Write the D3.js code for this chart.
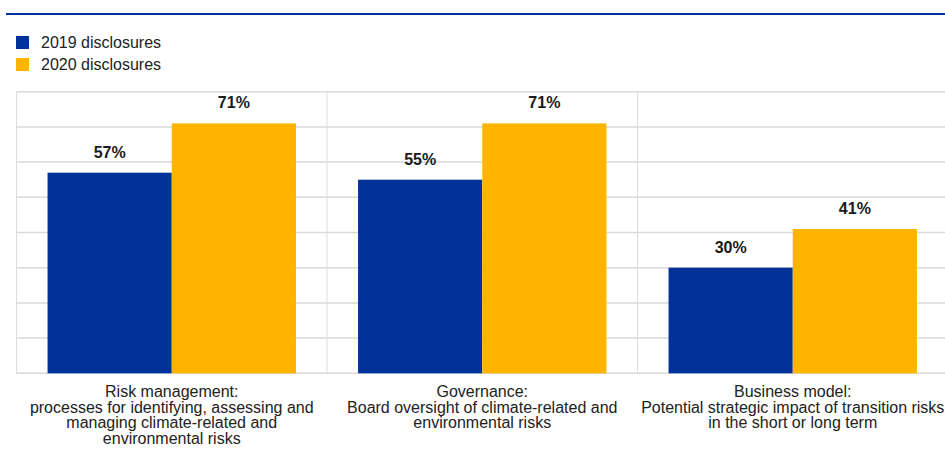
<!DOCTYPE html>
<html>
<head>
<meta charset="utf-8">
<script src="https://cdn.jsdelivr.net/npm/d3@7/dist/d3.min.js"></script>
<style>
  html, body { margin: 0; padding: 0; background: #fff; }
  svg { display: block; font-family: Arial, "Liberation Sans", Helvetica, sans-serif; }
</style>
</head>
<body>
<svg id="chart" width="945" height="452"></svg>
<script>
// Share of disclosures covering each topic (%)
const categories = ["risk", "governance", "business"];
const categoryLabels = [
  ["Risk management:", "processes for identifying, assessing and", "managing climate-related and", "environmental risks"],
  ["Governance:", "Board oversight of climate-related and", "environmental risks"],
  ["Business model:", "Potential strategic impact of transition risks", "in the short or long term"]
];
const seriesNames = ["2019 disclosures", "2020 disclosures"];
const values2019 = [57, 55, 30];
const values2020 = [71, 71, 41];
const gridTicks = [0, 10, 20, 30, 40, 50, 60, 70, 80];

const colors = ["#003299", "#FFB400"];
const series = [values2019, values2020];

const svg = d3.select("#chart");

// top rule
svg.append("line")
  .attr("x1", 6).attr("x2", 945).attr("y1", 14).attr("y2", 14)
  .attr("stroke", "#003299").attr("stroke-width", 2);

// legend
const legend = svg.append("g");
seriesNames.forEach((name, i) => {
  const g = legend.append("g").attr("transform", `translate(16, ${36 + i * 22})`);
  g.append("rect").attr("width", 13).attr("height", 13).attr("fill", colors[i]);
  g.append("text").attr("x", 25).attr("y", 12)
    .attr("font-size", 16).attr("fill", "#222")
    .text(name);
});

const plot = { left: 16.5, right: 948, top: 91.7, bottom: 373.3 };

const x = d3.scaleBand().domain(categories).range([plot.left, plot.right]).paddingInner(0).paddingOuter(0);
const xInner = d3.scaleBand().domain([0, 1]).range([0, x.bandwidth()]).paddingInner(0).paddingOuter(0.25);
const y = d3.scaleLinear().domain([0, 80]).range([plot.bottom, plot.top]);

// horizontal gridlines
svg.append("g").selectAll("line").data(gridTicks).join("line")
  .attr("x1", plot.left).attr("x2", plot.right)
  .attr("y1", d => y(d)).attr("y2", d => y(d))
  .attr("stroke", "#d9d9d9").attr("stroke-width", 1.5);

// vertical category dividers
svg.append("g").selectAll("line").data(categories.concat(["end"])).join("line")
  .attr("x1", (d, i) => i < categories.length ? x(d) : plot.right)
  .attr("x2", (d, i) => i < categories.length ? x(d) : plot.right)
  .attr("y1", plot.top).attr("y2", plot.bottom)
  .attr("stroke", "#dcdcdc").attr("stroke-width", 1);

// bars
const bars = svg.append("g");
series.forEach((vals, s) => {
  bars.selectAll(null).data(vals).join("rect")
    .attr("x", (d, i) => x(categories[i]) + xInner(s))
    .attr("width", xInner.bandwidth())
    .attr("y", d => y(d))
    .attr("height", d => y(0) - y(d))
    .attr("fill", colors[s]);
  bars.selectAll(null).data(vals).join("text")
    .attr("x", (d, i) => x(categories[i]) + xInner(s) + xInner.bandwidth() / 2)
    .attr("y", d => y(d) - 15)
    .attr("text-anchor", "middle")
    .attr("font-size", 16).attr("font-weight", "bold").attr("fill", "#1a1a1a")
    .text(d => d + "%");
});

// category labels
const labels = svg.append("g");
categories.forEach((c, i) => {
  const t = labels.append("text")
    .attr("x", x(c) + x.bandwidth() / 2)
    .attr("y", 397)
    .attr("text-anchor", "middle")
    .attr("font-size", 16).attr("fill", "#222");
  categoryLabels[i].forEach((line, j) => {
    t.append("tspan").attr("x", x(c) + x.bandwidth() / 2).attr("dy", j === 0 ? 0 : 15.5).text(line);
  });
});
</script>
</body>
</html>
